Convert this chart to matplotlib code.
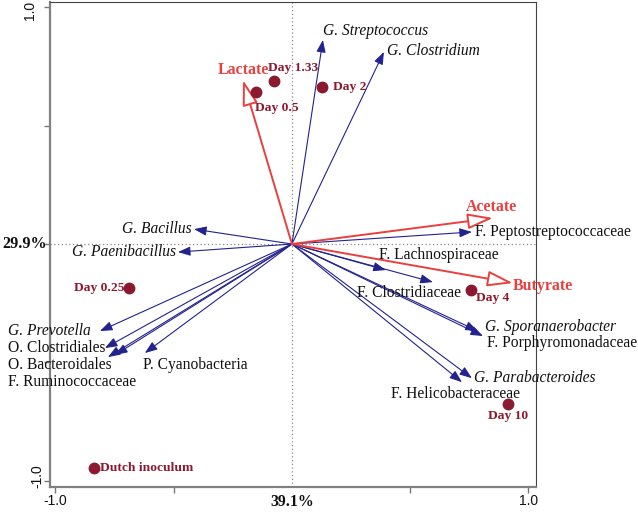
import matplotlib
matplotlib.use("Agg")
import matplotlib.pyplot as plt
from matplotlib.transforms import offset_copy

# ---------------- data ----------------
species = ["G. Streptococcus", "G. Clostridium", "F. Peptostreptococcaceae",
           "G. Bacillus", "G. Paenibacillus", "G. Prevotella", "O. Clostridiales",
           "O. Bacteroidales", "F. Ruminococcaceae", "P. Cyanobacteria",
           "F. Lachnospiraceae", "F. Clostridiaceae", "G. Sporanaerobacter",
           "F. Porphyromonadaceae", "G. Parabacteroides", "F. Helicobacteraceae"]
species_x = [0.131, 0.389, 0.761, -0.414, -0.482, -0.812, -0.791, -0.748, -0.778,
             -0.622, 0.397, 0.596, 0.786, 0.808, 0.761, 0.719]
species_y = [0.863, 0.812, 0.051, 0.063, -0.034, -0.368, -0.440, -0.469, -0.478,
             -0.461, -0.110, -0.161, -0.368, -0.389, -0.567, -0.584]
species_italic = [True, True, False, True, True, True, False, False, False, False,
                  False, False, True, False, True, False]

env_vars = ["Lactate", "Acetate", "Butyrate"]
env_x = [-0.207, 0.850, 0.934]
env_y = [0.693, 0.110, -0.165]

samples = ["Day 1.33", "Day 0.5", "Day 2", "Day 0.25", "Dutch inoculum", "Day 4", "Day 10"]
sample_x = [-0.076, -0.152, 0.127, -0.689, -0.837, 0.757, 0.913]
sample_y = [0.689, 0.643, 0.664, -0.186, -0.947, -0.195, -0.677]

x_tick_labels = ["-1.0", "39.1%", "1.0"]
y_tick_labels = ["-1.0", "29.9%", "1.0"]

# ---------------- layout (label offsets in pixels: dx, dy, ha) ----------------
species_offsets = {
    "G. Streptococcus": (0, 9, "left"),
    "G. Clostridium": (3, 1, "left"),
    "F. Peptostreptococcaceae": (3, 0, "left"),
    "G. Bacillus": (-2, 0, "right"),
    "G. Paenibacillus": (-2, 0, "right"),
    "G. Prevotella": (-92, 0, "left"),
    "O. Clostridiales": (-97, 0, "left"),
    "O. Bacteroidales": (-107, -10, "left"),
    "F. Ruminococcaceae": (-100, -25, "left"),
    "P. Cyanobacteria": (-2, -12, "left"),
    "F. Lachnospiraceae": (-7, 15, "left"),
    "F. Clostridiaceae": (-76, -11, "left"),
    "G. Sporanaerobacter": (7, 4, "left"),
    "F. Porphyromonadaceae": (4, -7, "left"),
    "G. Parabacteroides": (2, 0, "left"),
    "F. Helicobacteraceae": (-71, -12, "left"),
}
env_offsets = {
    "Lactate": (0, 10, "center"),
    "Acetate": (-1, 11, "center"),
    "Butyrate": (0, -3, "left"),
}
sample_offsets = {
    "Day 1.33": (-6, 13, "left"),
    "Day 0.5": (-1, -16, "left"),
    "Day 2": (11, 0, "left"),
    "Day 0.25": (-4, 0, "right"),
    "Dutch inoculum": (6, 0, "left"),
    "Day 4": (5, -8, "left"),
    "Day 10": (-20, -12, "left"),
}

SERIF = "Liberation Serif"
SANS = "Liberation Sans"
BLUE = "#23238f"
RED = "#e8403f"
DOT = "#8b1a30"

W, H = 638, 515
fig = plt.figure(figsize=(W / 100, H / 100), dpi=100)
ax = fig.add_axes([50 / W, (H - 487) / H, (536 - 50) / W, (487 - 2) / H])
ax.set_xlim(-1.023, 1.032)
ax.set_ylim(-1.027, 1.023)

# reference lines
ax.axvline(0, color="#888888", lw=0.9, ls=(0, (1, 2)), zorder=1)
ax.axhline(0, color="#888888", lw=0.9, ls=(0, (1, 2)), zorder=1)

# species arrows
for name, x, y, it in zip(species, species_x, species_y, species_italic):
    ax.annotate("", xy=(x, y), xytext=(0, 0),
                arrowprops=dict(arrowstyle="-|>,head_length=0.75,head_width=0.28",
                                color=BLUE, lw=0.8, shrinkA=0, shrinkB=0,
                                mutation_scale=10), zorder=2)
    dx, dy, ha = species_offsets[name]
    ax.annotate(name, xy=(x, y), xytext=(dx, dy), textcoords="offset pixels",
                ha=ha, va="center", fontsize=11.2, family=SERIF,
                style="italic" if it else "normal", color="#111111", zorder=4)

# environmental arrows
for name, x, y in zip(env_vars, env_x, env_y):
    ax.annotate("", xy=(x, y), xytext=(0, 0),
                arrowprops=dict(arrowstyle="-|>,head_length=1.3,head_width=0.4",
                                fc="white", ec=RED, lw=1.4, shrinkA=0, shrinkB=0,
                                mutation_scale=12), zorder=3)
    dx, dy, ha = env_offsets[name]
    ax.annotate(name, xy=(x, y), xytext=(dx, dy), textcoords="offset pixels",
                ha=ha, va="center", fontsize=11.4, family=SERIF, weight="bold",
                color=RED, zorder=4)

# samples
ax.plot(sample_x, sample_y, "o", color=DOT, ms=7.5, zorder=5, mec=DOT)
for name, x, y in zip(samples, sample_x, sample_y):
    dx, dy, ha = sample_offsets[name]
    ax.annotate(name, xy=(x, y), xytext=(dx, dy), textcoords="offset pixels",
                ha=ha, va="center", fontsize=9.7, family=SERIF, weight="bold",
                color=DOT, zorder=5)

# axes styling
ax.set_xticks([-1, -0.5, 0.5, 1])
ax.set_yticks([-1, -0.5, 0, 0.5, 1])
ax.set_xticklabels([])
ax.set_yticklabels([])
ax.tick_params(direction="out", length=4, width=1, color="#777777")
for s in ["left", "bottom"]:
    ax.spines[s].set_color("#808080")
    ax.spines[s].set_linewidth(1.6)
for s in ["top", "right"]:
    ax.spines[s].set_color("#444444")
    ax.spines[s].set_linewidth(0.8)

xt = ax.get_xaxis_transform()
yt = ax.get_yaxis_transform()
for val, lab in zip([-1, 0, 1], x_tick_labels):
    bold = "%" in lab
    tr = offset_copy(xt, fig=fig, x=0, y=-7, units="dots")
    ax.text(val, 0, lab, transform=tr, ha="center", va="top",
            fontsize=11.4 if bold else 10, family=SERIF if bold else SANS,
            weight="bold" if bold else "normal", color="#111111")

# y tick labels (pixel positions relative to the spine)
ytl_pos = {"-1.0": (-13, 4), "29.9%": (-3, 0), "1.0": (-20, -3)}
for val, lab in zip([-1, 0, 1], y_tick_labels):
    dx, dy = ytl_pos[lab]
    tr = offset_copy(yt, fig=fig, x=dx, y=dy, units="dots")
    if "%" in lab:
        ax.text(0, val, lab, transform=tr, ha="right", va="center",
                fontsize=11.6, family=SERIF, weight="bold", color="#111111")
    else:
        ax.text(0, val, lab, transform=tr, ha="center", va="center",
                rotation=90, fontsize=10, family=SANS, color="#111111")

fig.savefig("out.png", dpi=100)
